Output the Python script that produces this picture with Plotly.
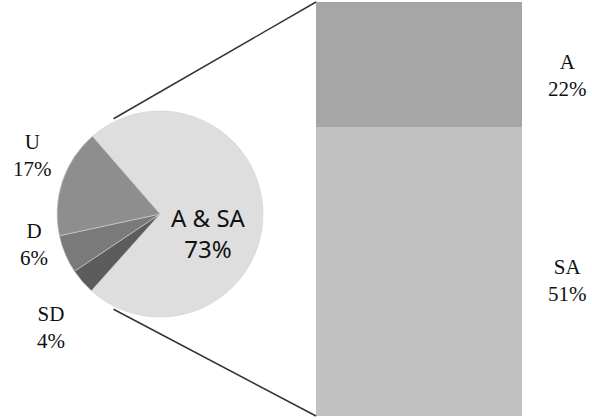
import math
import plotly.graph_objects as go

# Overall responses (pie) and the breakdown of the agree group (bar)
pie_labels = ["A & SA", "SD", "D", "U"]
pie_values = [73, 4, 6, 17]
pie_colors = ["#dedede", "#5c5c5c", "#7a7a7a", "#8e8e8e"]

bar_labels = ["SA", "A"]
bar_values = [51, 22]
bar_colors = ["#c1c1c1", "#a6a6a6"]

W, H = 592, 419

# Pie geometry in pixels
cx, cy, r = 160, 214, 103
rotation = -41  # start of the first slice, clockwise from 12 o'clock

# Bar geometry in pixels
bx0, bx1, by0, by1 = 316, 522, 2, 416


def px(x):
    return x / W


def py(y):
    return 1 - y / H


fig = go.Figure()

fig.add_trace(go.Pie(
    labels=pie_labels,
    values=pie_values,
    sort=False,
    direction="clockwise",
    rotation=rotation,
    marker=dict(colors=pie_colors, line=dict(color="#d0d0d0", width=0.6)),
    textinfo="none",
    hoverinfo="label+percent",
    showlegend=False,
    domain=dict(x=[px(cx - r), px(cx + r)], y=[py(cy + r), py(cy - r)]),
))

for lab, val, col in zip(bar_labels, bar_values, bar_colors):
    fig.add_trace(go.Bar(
        x=["A & SA"], y=[val], name=lab,
        marker=dict(color=col, line=dict(width=0)),
        showlegend=False, xaxis="x", yaxis="y",
    ))

total_bar = sum(bar_values)

fig.update_layout(
    width=W, height=H,
    margin=dict(l=0, r=0, t=0, b=0),
    paper_bgcolor="white", plot_bgcolor="white",
    barmode="stack", bargap=0,
    xaxis=dict(domain=[px(bx0), px(bx1)], visible=False, fixedrange=True),
    yaxis=dict(domain=[py(by1), py(by0)], range=[0, total_bar], visible=False, fixedrange=True),
)

# Connector lines from just outside the pie edge to the bar corners
a_top = math.radians(116)
a_bot = math.radians(-116)
rr = r + 3
p_top = (cx + rr * math.cos(a_top), cy - rr * math.sin(a_top))
p_bot = (cx + rr * math.cos(a_bot), cy - rr * math.sin(a_bot))
for (x0, y0), (x1, y1) in [(p_top, (bx0, by0)), (p_bot, (bx0, by1))]:
    fig.add_shape(type="line", xref="paper", yref="paper",
                  x0=px(x0), y0=py(y0), x1=px(x1), y1=py(y1),
                  line=dict(color="#333333", width=1.5))

serif = dict(family="Liberation Serif", size=21, color="#111111")
sans = dict(family="Noto Sans", size=24, color="#111111")

vals = dict(zip(pie_labels, pie_values))
bvals = dict(zip(bar_labels, bar_values))

annotations = [
    (208, 233, f"A & SA<br>{vals['A & SA']}%", sans),
    (32, 156, f"U<br>{vals['U']}%", serif),
    (34, 244, f"D<br>{vals['D']}%", serif),
    (51, 327, f"SD<br>{vals['SD']}%", serif),
    (567, 75, f"A<br>{bvals['A']}%", serif),
    (567, 280, f"SA<br>{bvals['SA']}%", serif),
]
for x, y, t, f in annotations:
    fig.add_annotation(x=px(x), y=py(y), xref="paper", yref="paper",
                       text=t, showarrow=False, font=f,
                       xanchor="center", yanchor="middle", align="center")

fig.write_html("out.html")
